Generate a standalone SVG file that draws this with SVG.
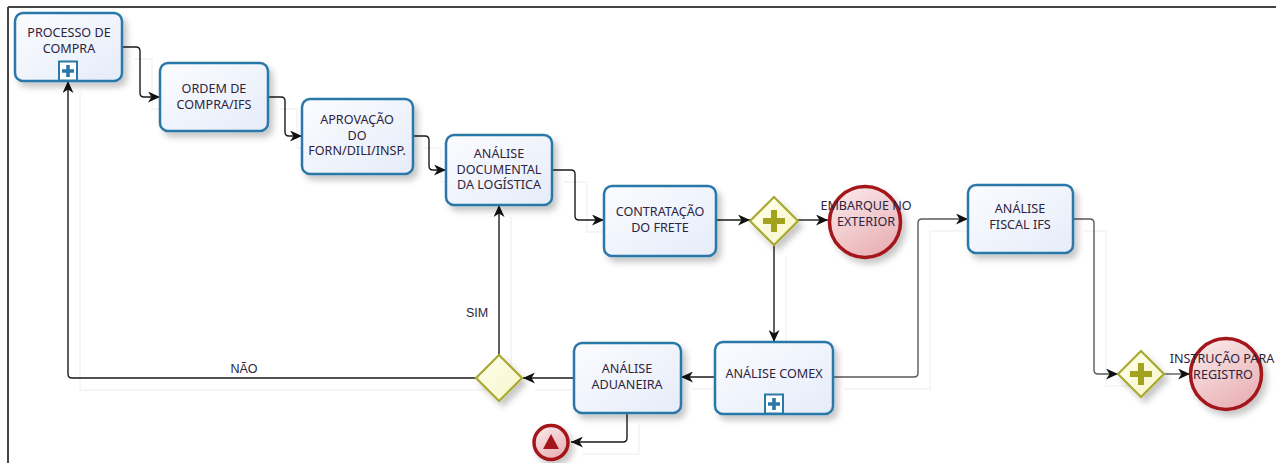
<svg xmlns="http://www.w3.org/2000/svg" width="1276" height="463" viewBox="0 0 1276 463">
<style>
text{font-family:"Noto Sans","Open Sans","Liberation Sans",sans-serif;font-size:12.6px;fill:#2e2440;text-anchor:middle}
.task{fill:url(#gTask);stroke:#2a78a8;stroke-width:2.5}
.gw{fill:url(#gGw);stroke:#a9a830;stroke-width:2.2}
.gwplus{fill:#a3a21f}
.end{fill:url(#gEnd);stroke:#a3151a;stroke-width:3.5}
.con{fill:none;stroke:#1a1a1a;stroke-width:1.4;marker-end:url(#arr)}
.con2{fill:none;stroke:#5a5a5a;stroke-width:1.4;marker-end:url(#arr)}
.ghost{fill:none;stroke:#f2f2f2;stroke-width:1.4}
.lbl{font-family:"Liberation Sans",Arial,sans-serif;font-size:12.5px;fill:#2e2440}
</style>
<defs>
<linearGradient id="gTask" x1="0" y1="0" x2="1" y2="1"><stop offset="0" stop-color="#fbfcff"/><stop offset="1" stop-color="#e5ecf9"/></linearGradient>
<linearGradient id="gGw" x1="0" y1="0" x2="1" y2="1"><stop offset="0" stop-color="#ffffee"/><stop offset="1" stop-color="#f5f5c8"/></linearGradient>
<linearGradient id="gEnd" x1="0" y1="0" x2="0.6" y2="1"><stop offset="0" stop-color="#fbeeee"/><stop offset="1" stop-color="#eab2b6"/></linearGradient>
<filter id="sh" x="-20%" y="-20%" width="150%" height="150%"><feDropShadow dx="4" dy="5" stdDeviation="3" flood-color="#000" flood-opacity="0.22"/></filter>
<marker id="arr" markerUnits="userSpaceOnUse" markerWidth="13" markerHeight="11" refX="12" refY="5.5" orient="auto"><path d="M0,0 L12,5.5 L0,11 L3.5,5.5 z" fill="#111"/></marker>
<g id="plusMarker"><rect x="-9" y="-9.5" width="18" height="19" fill="#ffffff" stroke="#2a78a8" stroke-width="2"/><path d="M-1.8,-6 h3.6 v4.2 h4.2 v3.6 h-4.2 v4.2 h-3.6 v-4.2 h-4.2 v-3.6 h4.2 z" fill="#2a78a8"/></g>
<g id="gwPlus"><path d="M-3,-11 h6 v8 h8 v6 h-8 v8 h-6 v-8 h-8 v-6 h8 z" class="gwplus"/></g>
</defs>
<rect width="1276" height="463" fill="#ffffff"/>
<path d="M8,7 H1276 M8,7 V463" fill="none" stroke="#444" stroke-width="2"/>

<g id="ghosts">
<path class="ghost" d="M80,93 V390 H488"/>
<path class="ghost" d="M511,217 V367"/>
<path class="ghost" d="M535,390 H586"/>
<path class="ghost" d="M693,389 H727"/>
<path class="ghost" d="M639,425 V454 H582"/>
<path class="ghost" d="M845,389 H930 V231 H980"/>
<path class="ghost" d="M1085,231 H1106 V386 H1130"/>
<path class="ghost" d="M134,59 H152 V109 H172"/>
<path class="ghost" d="M280,109 H297 V148 H314"/>
<path class="ghost" d="M425,148 H441 V182 H458"/>
<path class="ghost" d="M564,182 H587 V232 H616"/>
<path class="ghost" d="M786,256 V354"/>
</g>

<g id="connectors">
<path class="con" d="M122,47 H136 Q140,47 140,51 V93 Q140,97 144,97 H160"/>
<path class="con" d="M268,97 H281 Q285,97 285,101 V132 Q285,136 289,136 H302"/>
<path class="con" d="M413,136 H425 Q429,136 429,140 V166 Q429,170 433,170 H446"/>
<path class="con" d="M552,170 H571 Q575,170 575,174 V216 Q575,220 579,220 H604"/>
<path class="con" d="M716,220 H750"/>
<path class="con" d="M798,220 H828"/>
<path class="con" d="M774,244 V342"/>
<path class="con2" d="M833,377 H914 Q918,377 918,373 V223 Q918,219 922,219 H968"/>
<path class="con2" d="M1073,219 H1090 Q1094,219 1094,223 V370 Q1094,374 1098,374 H1118"/>
<path class="con2" d="M1164,374 H1190"/>
<path class="con" d="M715,377 H681"/>
<path class="con" d="M574,378 H523"/>
<path class="con" d="M499,355 V205"/>
<path class="con" d="M476,378 H72 Q68,378 68,374 V81"/>
<path class="con" d="M627,413 V438 Q627,442 623,442 H571"/>
<text class="lbl" x="477" y="317">SIM</text>
<text class="lbl" x="244" y="373">NÃO</text>
</g>

<g id="processo-compra"><rect class="task" x="15" y="13" width="107" height="68" rx="8" filter="url(#sh)"/><text x="69" y="37">PROCESSO DE</text><text x="69" y="53">COMPRA</text><use href="#plusMarker" x="68" y="71"/></g>
<g id="ordem-compra"><rect class="task" x="160" y="63" width="108" height="68" rx="8" filter="url(#sh)"/><text x="214" y="93">ORDEM DE</text><text x="214" y="109">COMPRA/IFS</text></g>
<g id="aprovacao"><rect class="task" x="302" y="99" width="111" height="75" rx="8" filter="url(#sh)"/><text x="357" y="123.5">APROVAÇÃO</text><text x="357" y="139.5">DO</text><text x="357" y="155">FORN/DILI/INSP.</text></g>
<g id="analise-documental"><rect class="task" x="446" y="135" width="106" height="70" rx="8" filter="url(#sh)"/><text x="499" y="158">ANÁLISE</text><text x="499" y="174">DOCUMENTAL</text><text x="499" y="189">DA LOGÍSTICA</text></g>
<g id="contratacao-frete"><rect class="task" x="604" y="186" width="112" height="70" rx="8" filter="url(#sh)"/><text x="660" y="216">CONTRATAÇÃO</text><text x="660" y="232">DO FRETE</text></g>
<g id="gw-paralelo-1"><path class="gw" d="M774,197 L798,221 L774,245 L750,221 z" filter="url(#sh)"/><use href="#gwPlus" x="774" y="221"/></g>
<g id="embarque-exterior"><circle class="end" cx="865" cy="222" r="35.5" filter="url(#sh)"/><text x="866" y="210">EMBARQUE NO</text><text x="866" y="226">EXTERIOR</text></g>
<g id="analise-fiscal"><rect class="task" x="968" y="185" width="105" height="68" rx="8" filter="url(#sh)"/><text x="1020" y="213">ANÁLISE</text><text x="1020" y="229">FISCAL IFS</text></g>
<g id="analise-comex"><rect class="task" x="715" y="342" width="118" height="72" rx="8" filter="url(#sh)"/><text x="774" y="378">ANÁLISE COMEX</text><use href="#plusMarker" x="774" y="404"/></g>
<g id="analise-aduaneira"><rect class="task" x="574" y="343" width="107" height="70" rx="8" filter="url(#sh)"/><text x="627" y="373">ANÁLISE</text><text x="627" y="389">ADUANEIRA</text></g>
<g id="gw-exclusivo"><path class="gw" d="M499,355 L522,378 L499,401 L476,378 z" filter="url(#sh)"/></g>
<g id="erro"><circle class="end" cx="551" cy="442.5" r="17" filter="url(#sh)"/><path d="M551,434 L559,449 L543,449 z" fill="#a3151a"/></g>
<g id="gw-paralelo-2"><path class="gw" d="M1141,351 L1164,374 L1141,397 L1118,374 z" filter="url(#sh)"/><use href="#gwPlus" x="1141" y="374"/></g>
<g id="instrucao-registro"><circle class="end" cx="1226" cy="374" r="35.5" filter="url(#sh)"/><text x="1222" y="363">INSTRUÇÃO PARA</text><text x="1223" y="379">REGISTRO</text></g>
</svg>
